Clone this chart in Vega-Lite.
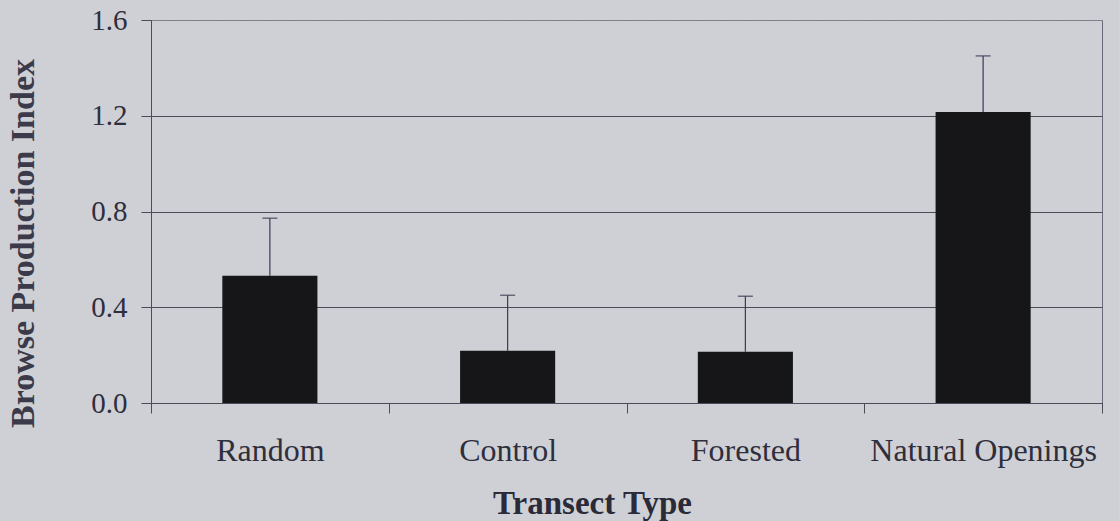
{
  "$schema": "https://vega.github.io/schema/vega-lite/v6.json",
  "width": 951,
  "height": 383,
  "autosize": {"type": "none"},
  "padding": {"left": 151, "top": 20, "right": 17, "bottom": 118},
  "background": "#cfd0d5",
  "config": {
    "view": {"stroke": "#6a6a7a", "strokeWidth": 1},
    "font": "Liberation Serif",
    "axis": {"labelFont": "Liberation Serif", "titleFont": "Liberation Serif"}
  },
  "data": {
    "values": [
      {"type": "Random", "mean": 0.532, "upper": 0.772},
      {"type": "Control", "mean": 0.218, "upper": 0.450},
      {"type": "Forested", "mean": 0.214, "upper": 0.446},
      {"type": "Natural Openings", "mean": 1.216, "upper": 1.45}
    ]
  },
  "encoding": {
    "x": {
      "field": "type",
      "type": "nominal",
      "sort": null,
      "scale": {"paddingInner": 0, "paddingOuter": 0},
      "axis": {
        "title": "Transect Type",
        "labelAngle": 0,
        "labelLimit": 0,
        "tickBand": "extent",
        "tickSize": 10,
        "tickColor": "#4b4b5a",
        "domainColor": "#4b4b5a",
        "labelFontSize": 32,
        "labelColor": "#2e2e3c",
        "labelBaseline": "alphabetic",
        "labelPadding": 47,
        "titleFontSize": 33,
        "titleFontWeight": "bold",
        "titleColor": "#2a2a38",
        "titleBaseline": "alphabetic",
        "titleAlign": "center",
        "titleX": 441,
        "titleY": 110,
        "grid": false
      }
    }
  },
  "layer": [
    {
      "mark": {"type": "bar", "color": "#161618", "width": {"band": 0.4}},
      "encoding": {
        "y": {
          "field": "mean",
          "type": "quantitative",
          "scale": {"domain": [0, 1.6], "nice": false},
          "axis": {
            "title": "Browse Production Index",
            "values": [0, 0.4, 0.8, 1.2, 1.6],
            "format": ".1f",
            "labelLimit": 0,
            "tickSize": 10,
            "tickColor": "#4b4b5a",
            "domainColor": "#4b4b5a",
            "grid": true,
            "gridColor": {"condition": {"test": "datum.value == 1.6", "value": "#8a8a96"}, "value": "#4b4b5a"},
            "gridDash": {"condition": {"test": "datum.value == 1.6", "value": [2, 1]}, "value": []},
            "gridOpacity": 1,
            "labelFontSize": 29,
            "labelColor": "#2e2e3c",
            "labelPadding": 14,
            "labelBaseline": "middle",
            "titleFontSize": 34,
            "titleFontWeight": "bold",
            "titleColor": "#3a3a4a",
            "titleAngle": -90,
            "titleAlign": "center",
            "titleBaseline": "alphabetic",
            "titleX": -118,
            "titleY": 223,
            "titleLimit": 0
          }
        }
      }
    },
    {
      "mark": {"type": "rule", "color": "#3a3a55", "strokeWidth": 1.2},
      "encoding": {
        "y": {"field": "mean", "type": "quantitative"},
        "y2": {"field": "upper"}
      }
    },
    {
      "mark": {"type": "tick", "color": "#3a3a55", "size": 15, "thickness": 1.5, "orient": "horizontal"},
      "encoding": {
        "y": {"field": "upper", "type": "quantitative"}
      }
    }
  ]
}
